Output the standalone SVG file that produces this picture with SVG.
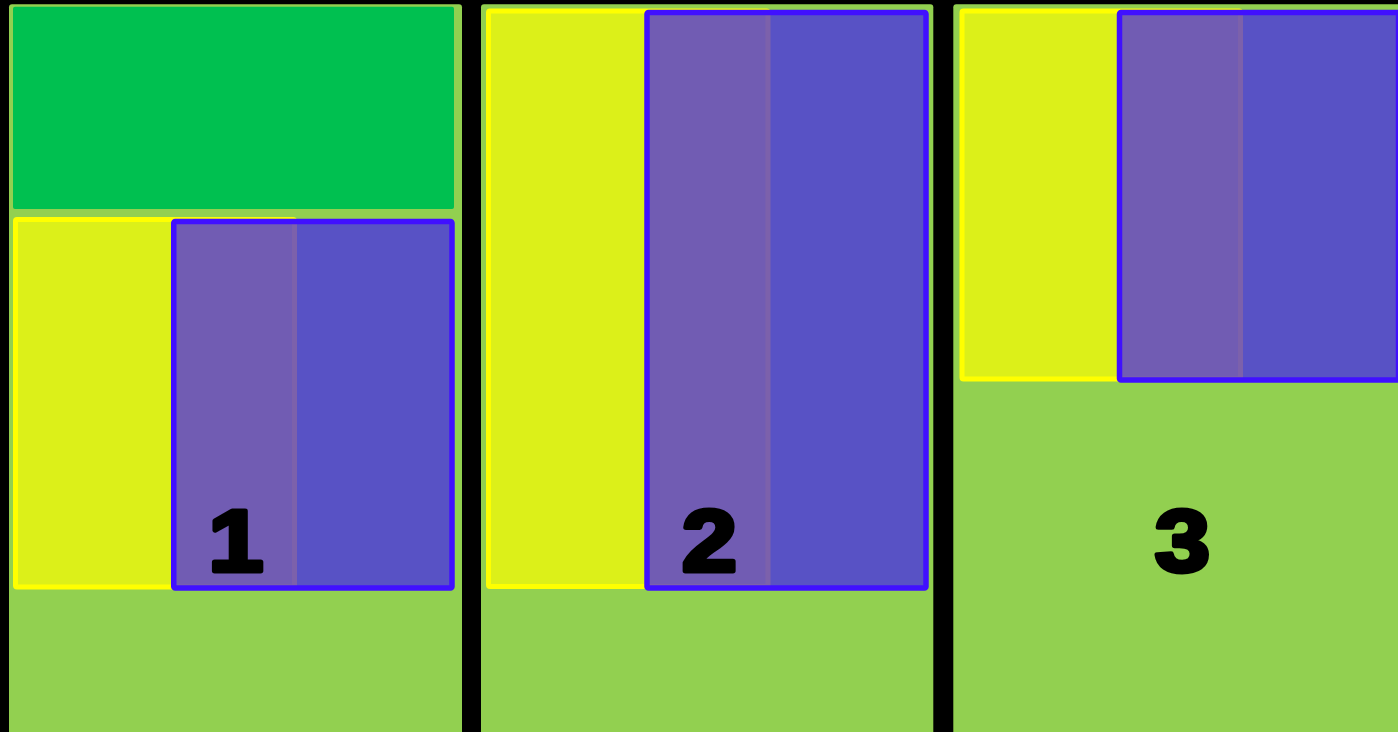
<svg xmlns="http://www.w3.org/2000/svg" width="1398" height="732" viewBox="0 0 1398 732">
<style>
.panel{fill:#92D050}
.top{fill:#00C050}
.yel{fill:#FFFF00;fill-opacity:0.68;stroke:#FFFF00;stroke-width:5}
.blu{fill:#3C14FF;fill-opacity:0.67;stroke:#4010FF;stroke-width:5.5}
.num{font-family:"Liberation Sans",Arial,sans-serif;font-weight:bold;font-size:88px;fill:#000;stroke:#000;stroke-width:5;stroke-linejoin:round;text-anchor:middle}
</style>
<rect x="0" y="0" width="1398" height="732" fill="#000"/>
<g id="panel1">
<rect class="panel" x="9" y="4.3" width="453" height="740" rx="3"/>
<rect class="top" x="13" y="6.7" width="441" height="202.3" rx="2"/>
<rect class="yel" x="15.5" y="219.5" width="279" height="367.5" rx="1.5"/>
<rect class="blu" x="173.75" y="221.5" width="278.25" height="366.5" rx="1.5"/>
<text class="num" transform="translate(236 571) scale(1.12 1)" x="0" y="0">1</text>
</g>
<g id="panel2">
<rect class="panel" x="481" y="4.3" width="452.3" height="740" rx="3"/>
<rect class="yel" x="488.5" y="11" width="279.5" height="575.5" rx="1.5"/>
<rect class="blu" x="647" y="12.5" width="279" height="575.5" rx="1.5"/>
<text class="num" transform="translate(709.5 571) scale(1.12 1)" x="0" y="0">2</text>
</g>
<g id="panel3">
<rect class="panel" x="953.3" y="4.3" width="460" height="740" rx="3"/>
<rect class="yel" x="962" y="11" width="278.5" height="368" rx="1.5"/>
<rect class="blu" x="1119.5" y="12.5" width="279" height="367.5" rx="1.5"/>
<text class="num" transform="translate(1182.5 571) scale(1.12 1)" x="0" y="0">3</text>
</g>
<g id="connectors"/>
</svg>
